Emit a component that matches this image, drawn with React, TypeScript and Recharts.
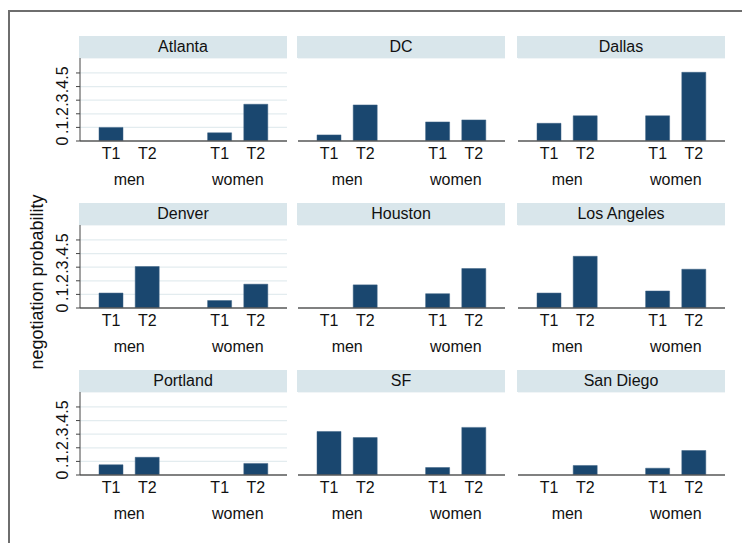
import React from 'react';
import { BarChart, Bar, XAxis, YAxis, CartesianGrid } from 'recharts';

const cities = ['Atlanta', 'DC', 'Dallas', 'Denver', 'Houston', 'Los Angeles', 'Portland', 'SF', 'San Diego'];
const groups = ['men', 'women'];
const treatments = ['T1', 'T2'];
const yTicks = [0, 0.1, 0.2, 0.3, 0.4, 0.5];
const yTickLabels = ['0', '.1', '.2', '.3', '.4', '.5'];

// per city: men T1, men T2, women T1, women T2
const probabilities = [
  [0.1, 0, 0.06, 0.27],
  [0.045, 0.265, 0.14, 0.155],
  [0.13, 0.185, 0.185, 0.505],
  [0.11, 0.305, 0.055, 0.175],
  [0, 0.17, 0.105, 0.29],
  [0.11, 0.38, 0.125, 0.285],
  [0.075, 0.13, 0, 0.085],
  [0.32, 0.275, 0.055, 0.35],
  [0, 0.07, 0.05, 0.18],
];

const FONT = '"Liberation Sans", Arial, Helvetica, sans-serif';
const BAR = '#1a476f';
const STRIP = '#d9e6eb';
const GRID = '#e3ecef';

const COL_X = [80, 298, 518];
const ROW_Y = [36, 203, 370];
const PLOT_W = 207;
const PLOT_H = 83;
const STRIP_H = 22;
const Y_W = 40;
const X_H = 50;
const PAD_L = 13;
const PAD_R = 13;
const STEP = (PLOT_W - PAD_L - PAD_R) / 5;

function buildRows(values: number[]) {
  const rows: any[] = [];
  groups.forEach((g, gi) => {
    if (gi > 0) rows.push({ slot: 'gap', p: null });
    treatments.forEach((t, ti) => {
      rows.push({ slot: `${g}|${t}`, p: values[gi * 2 + ti] });
    });
  });
  return rows;
}

const XTick = (props: any) => {
  const { x, y, payload } = props;
  const [group, treat] = String(payload.value).split('|');
  if (!treat) return null;
  return (
    <g>
      <text x={x} y={y + 12} textAnchor="middle" dominantBaseline="central" fontSize={16} fill="#111" fontFamily={FONT}>
        {treat}
      </text>
      {treat === treatments[0] && (
        <text x={x + STEP / 2} y={y + 38} textAnchor="middle" dominantBaseline="central" fontSize={16} fill="#111" fontFamily={FONT}>
          {group}
        </text>
      )}
    </g>
  );
};

const YTick = (props: any) => {
  const { x, y, payload } = props;
  const i = yTicks.indexOf(payload.value);
  return (
    <text x={x} y={y} transform={`rotate(-90, ${x}, ${y})`} textAnchor="middle" fontSize={16} fill="#111" fontFamily={FONT}>
      {yTickLabels[i]}
    </text>
  );
};

function Panel({ index }: { index: number }) {
  const r = Math.floor(index / 3);
  const c = index % 3;
  const left = COL_X[c];
  const top = ROW_Y[r];
  const first = c === 0;
  return (
    <>
      <div
        style={{
          position: 'absolute',
          left: left - 1,
          top,
          width: PLOT_W + 1,
          height: STRIP_H,
          background: STRIP,
          textAlign: 'center',
          lineHeight: `${STRIP_H}px`,
          fontSize: 16,
          color: '#111',
        }}
      >
        {cities[index]}
      </div>
      <div style={{ position: 'absolute', left: left - Y_W, top: top + STRIP_H }}>
        <BarChart
          width={Y_W + PLOT_W}
          height={PLOT_H + X_H}
          data={buildRows(probabilities[index])}
          margin={{ top: 0, right: 0, bottom: 0, left: 0 }}
          barSize={24}
        >
          <CartesianGrid horizontal vertical={false} stroke={GRID} strokeWidth={1.2} />
          <XAxis
            dataKey="slot"
            height={X_H}
            padding={{ left: PAD_L, right: PAD_R }}
            axisLine={{ stroke: '#5a5a5a', strokeWidth: 1.5 }}
            tickLine={false}
            tickSize={0}
            tickMargin={0}
            interval={0}
            tick={<XTick />}
          />
          <YAxis
            width={Y_W}
            domain={[0, 0.61]}
            ticks={yTicks}
            interval={0}
            allowDataOverflow
            axisLine={first ? { stroke: '#444', strokeWidth: 1 } : false}
            tickLine={first ? { stroke: '#444' } : false}
            tickSize={4}
            tickMargin={8}
            tick={first ? <YTick /> : false}
          />
          <Bar dataKey="p" fill={BAR} stroke="#3d6285" strokeWidth={0.5} isAnimationActive={false} />
        </BarChart>
      </div>
    </>
  );
}

export default function App() {
  return (
    <div
      style={{
        position: 'absolute',
        left: 0,
        top: 0,
        width: 742,
        height: 543,
        overflow: 'hidden',
        background: '#fff',
        fontFamily: FONT,
      }}
    >
      <div
        style={{
          position: 'absolute',
          left: 8,
          top: 10,
          width: 800,
          height: 600,
          borderLeft: '2px solid #6e6e6e',
          borderTop: '2px solid #6e6e6e',
        }}
      />
      <div
        style={{
          position: 'absolute',
          left: 37,
          top: 282,
          transform: 'translate(-50%, -50%) rotate(-90deg)',
          whiteSpace: 'nowrap',
          fontSize: 18,
          color: '#111',
        }}
      >
        negotiation probability
      </div>
      {cities.map((_, i) => (
        <Panel key={cities[i]} index={i} />
      ))}
    </div>
  );
}
